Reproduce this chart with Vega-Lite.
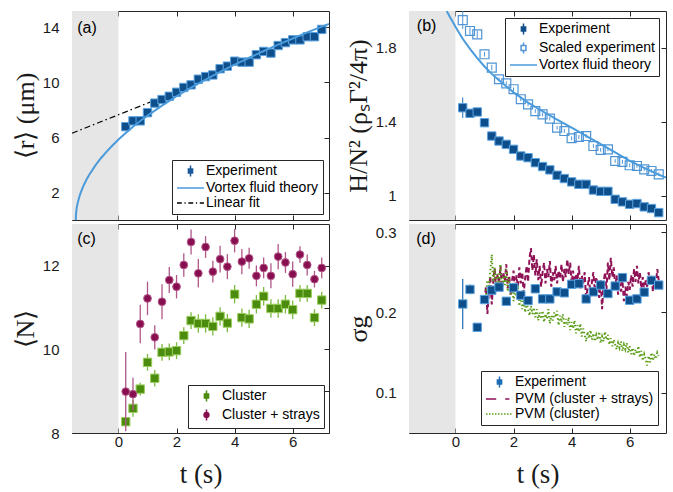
{
"$schema": "https://vega.github.io/schema/vega-lite/v6.json",
"padding": {"left": 11, "top": 10, "right": 2, "bottom": 2},
"background": "white",
"config": {
  "view": {"stroke": "#262626", "strokeWidth": 1},
  "axis": {"domain": false, "grid": false, "tickSize": -5, "tickColor": "#262626", "tickWidth": 1, "labelFont": "Liberation Sans", "labelFontSize": 15, "labelColor": "#1a1a1a", "labelPadding": 18, "titleFont": "Liberation Serif", "titleFontSize": 26, "titleFontWeight": "normal", "titleColor": "#1a1a1a", "titlePadding": 4},
  "legend": {"title": null, "labelFont": "Liberation Sans", "labelFontSize": 14, "labelColor": "#000000", "strokeColor": "#262626", "fillColor": "#ffffff", "padding": 4, "rowPadding": 1, "symbolSize": 144, "symbolStrokeWidth": 1.5, "labelOffset": 16, "symbolOpacity": 1, "cornerRadius": 0},
  "text": {"font": "Liberation Sans", "fontSize": 16}
},
"datasets": {
  "shade": [{"t0": -1.6, "t1": 0}],
  "a": [
    {"series":"Experiment","t":0.25,"v":6.79},{"series":"Experiment","t":0.5,"v":7.21},{"series":"Experiment","t":0.75,"v":7.21},{"series":"Experiment","t":1.0,"v":7.81},{"series":"Experiment","t":1.25,"v":8.5},{"series":"Experiment","t":1.5,"v":8.76},{"series":"Experiment","t":1.75,"v":9.0},{"series":"Experiment","t":2.0,"v":9.29},{"series":"Experiment","t":2.25,"v":9.64},{"series":"Experiment","t":2.5,"v":9.83},{"series":"Experiment","t":2.75,"v":10.24},{"series":"Experiment","t":3.0,"v":10.43},{"series":"Experiment","t":3.25,"v":10.55},{"series":"Experiment","t":3.5,"v":11.0},{"series":"Experiment","t":3.75,"v":11.19},{"series":"Experiment","t":4.0,"v":11.55},{"series":"Experiment","t":4.25,"v":11.48},{"series":"Experiment","t":4.5,"v":11.48},{"series":"Experiment","t":4.75,"v":12.02},{"series":"Experiment","t":5.0,"v":12.26},{"series":"Experiment","t":5.25,"v":12.14},{"series":"Experiment","t":5.5,"v":12.69},{"series":"Experiment","t":5.75,"v":12.9},{"series":"Experiment","t":6.0,"v":13.1},{"series":"Experiment","t":6.25,"v":13.1},{"series":"Experiment","t":6.5,"v":13.33},{"series":"Experiment","t":6.75,"v":13.33},{"series":"Experiment","t":7.0,"v":13.86},
    {"series":"Vortex fluid theory","t":-1.47,"v":0},{"series":"Vortex fluid theory","t":-1.465,"v":0.34},{"series":"Vortex fluid theory","t":-1.46,"v":0.48},{"series":"Vortex fluid theory","t":-1.45,"v":0.68},{"series":"Vortex fluid theory","t":-1.44,"v":0.84},{"series":"Vortex fluid theory","t":-1.42,"v":1.08},{"series":"Vortex fluid theory","t":-1.4,"v":1.28},{"series":"Vortex fluid theory","t":-1.35,"v":1.67},{"series":"Vortex fluid theory","t":-1.3,"v":1.99},{"series":"Vortex fluid theory","t":-1.2,"v":2.51},{"series":"Vortex fluid theory","t":-1.1,"v":2.94},{"series":"Vortex fluid theory","t":-1.0,"v":3.31},{"series":"Vortex fluid theory","t":-0.8,"v":3.95},{"series":"Vortex fluid theory","t":-0.6,"v":4.51},{"series":"Vortex fluid theory","t":-0.4,"v":4.99},{"series":"Vortex fluid theory","t":-0.2,"v":5.44},{"series":"Vortex fluid theory","t":0,"v":5.86},{"series":"Vortex fluid theory","t":0.25,"v":6.33},{"series":"Vortex fluid theory","t":0.5,"v":6.78},{"series":"Vortex fluid theory","t":0.75,"v":7.2},{"series":"Vortex fluid theory","t":1.0,"v":7.59},{"series":"Vortex fluid theory","t":1.5,"v":8.32},{"series":"Vortex fluid theory","t":2.0,"v":9.0},{"series":"Vortex fluid theory","t":2.5,"v":9.62},{"series":"Vortex fluid theory","t":3.0,"v":10.21},{"series":"Vortex fluid theory","t":3.5,"v":10.77},{"series":"Vortex fluid theory","t":4.0,"v":11.3},{"series":"Vortex fluid theory","t":4.5,"v":11.8},{"series":"Vortex fluid theory","t":5.0,"v":12.29},{"series":"Vortex fluid theory","t":5.5,"v":12.75},{"series":"Vortex fluid theory","t":6.0,"v":13.2},{"series":"Vortex fluid theory","t":6.5,"v":13.64},{"series":"Vortex fluid theory","t":7.0,"v":14.06},{"series":"Vortex fluid theory","t":7.25,"v":14.26},
    {"series":"Linear fit","t":-1.6,"v":6.31},{"series":"Linear fit","t":2.0,"v":9.34}
  ],
  "b": [
    {"series":"Experiment","t":0.25,"v":1.477,"err":0.055},{"series":"Experiment","t":0.5,"v":1.447,"err":0.012},{"series":"Experiment","t":0.75,"v":1.454,"err":0.01},{"series":"Experiment","t":1.0,"v":1.396,"err":0.008},{"series":"Experiment","t":1.25,"v":1.324,"err":0.008},{"series":"Experiment","t":1.5,"v":1.297,"err":0.008},{"series":"Experiment","t":1.75,"v":1.279,"err":0.008},{"series":"Experiment","t":2.0,"v":1.252,"err":0.008},{"series":"Experiment","t":2.25,"v":1.216,"err":0.008},{"series":"Experiment","t":2.5,"v":1.207,"err":0.008},{"series":"Experiment","t":2.75,"v":1.18,"err":0.008},{"series":"Experiment","t":3.0,"v":1.159,"err":0.008},{"series":"Experiment","t":3.25,"v":1.141,"err":0.008},{"series":"Experiment","t":3.5,"v":1.112,"err":0.008},{"series":"Experiment","t":3.75,"v":1.094,"err":0.008},{"series":"Experiment","t":4.0,"v":1.076,"err":0.008},{"series":"Experiment","t":4.25,"v":1.063,"err":0.008},{"series":"Experiment","t":4.5,"v":1.063,"err":0.008},{"series":"Experiment","t":4.75,"v":1.032,"err":0.008},{"series":"Experiment","t":5.0,"v":1.025,"err":0.008},{"series":"Experiment","t":5.25,"v":1.025,"err":0.008},{"series":"Experiment","t":5.5,"v":0.982,"err":0.008},{"series":"Experiment","t":5.75,"v":0.968,"err":0.008},{"series":"Experiment","t":6.0,"v":0.955,"err":0.008},{"series":"Experiment","t":6.25,"v":0.959,"err":0.008},{"series":"Experiment","t":6.5,"v":0.941,"err":0.008},{"series":"Experiment","t":6.75,"v":0.932,"err":0.008},{"series":"Experiment","t":7.0,"v":0.91,"err":0.008},
    {"series":"Scaled experiment","t":0.25,"v":1.951,"err":0.048},{"series":"Scaled experiment","t":0.5,"v":1.892,"err":0.02},{"series":"Scaled experiment","t":0.75,"v":1.874,"err":0.02},{"series":"Scaled experiment","t":1.0,"v":1.766,"err":0.012},{"series":"Scaled experiment","t":1.25,"v":1.694,"err":0.015},{"series":"Scaled experiment","t":1.5,"v":1.631,"err":0.01},{"series":"Scaled experiment","t":1.75,"v":1.609,"err":0.01},{"series":"Scaled experiment","t":2.0,"v":1.577,"err":0.01},{"series":"Scaled experiment","t":2.25,"v":1.523,"err":0.01},{"series":"Scaled experiment","t":2.5,"v":1.495,"err":0.01},{"series":"Scaled experiment","t":2.75,"v":1.459,"err":0.01},{"series":"Scaled experiment","t":3.0,"v":1.441,"err":0.01},{"series":"Scaled experiment","t":3.25,"v":1.418,"err":0.01},{"series":"Scaled experiment","t":3.5,"v":1.369,"err":0.01},{"series":"Scaled experiment","t":3.75,"v":1.351,"err":0.01},{"series":"Scaled experiment","t":4.0,"v":1.312,"err":0.01},{"series":"Scaled experiment","t":4.25,"v":1.319,"err":0.01},{"series":"Scaled experiment","t":4.5,"v":1.324,"err":0.01},{"series":"Scaled experiment","t":4.75,"v":1.27,"err":0.01},{"series":"Scaled experiment","t":5.0,"v":1.249,"err":0.01},{"series":"Scaled experiment","t":5.25,"v":1.252,"err":0.01},{"series":"Scaled experiment","t":5.5,"v":1.189,"err":0.01},{"series":"Scaled experiment","t":5.75,"v":1.184,"err":0.01},{"series":"Scaled experiment","t":6.0,"v":1.166,"err":0.01},{"series":"Scaled experiment","t":6.25,"v":1.162,"err":0.01},{"series":"Scaled experiment","t":6.5,"v":1.144,"err":0.01},{"series":"Scaled experiment","t":6.75,"v":1.135,"err":0.01},{"series":"Scaled experiment","t":7.0,"v":1.117,"err":0.01},
    {"series":"Vortex fluid theory","t":-0.3,"v":2.0},{"series":"Vortex fluid theory","t":-0.2,"v":1.97},{"series":"Vortex fluid theory","t":-0.1,"v":1.943},{"series":"Vortex fluid theory","t":0,"v":1.915},{"series":"Vortex fluid theory","t":0.25,"v":1.85},{"series":"Vortex fluid theory","t":0.5,"v":1.795},{"series":"Vortex fluid theory","t":0.75,"v":1.745},{"series":"Vortex fluid theory","t":1.0,"v":1.7},{"series":"Vortex fluid theory","t":1.25,"v":1.66},{"series":"Vortex fluid theory","t":1.5,"v":1.625},{"series":"Vortex fluid theory","t":2.0,"v":1.56},{"series":"Vortex fluid theory","t":2.5,"v":1.505},{"series":"Vortex fluid theory","t":3.0,"v":1.458},{"series":"Vortex fluid theory","t":3.5,"v":1.413},{"series":"Vortex fluid theory","t":4.0,"v":1.37},{"series":"Vortex fluid theory","t":4.5,"v":1.325},{"series":"Vortex fluid theory","t":5.0,"v":1.28},{"series":"Vortex fluid theory","t":5.5,"v":1.235},{"series":"Vortex fluid theory","t":6.0,"v":1.19},{"series":"Vortex fluid theory","t":6.5,"v":1.152},{"series":"Vortex fluid theory","t":7.0,"v":1.115},{"series":"Vortex fluid theory","t":7.25,"v":1.1}
  ],
  "c": [
    {"series":"Cluster","t":0.25,"v":8.27,"err":0.1},{"series":"Cluster","t":0.5,"v":8.59,"err":0.2},{"series":"Cluster","t":0.75,"v":9.05,"err":0.15},{"series":"Cluster","t":1.0,"v":9.69,"err":0.2},{"series":"Cluster","t":1.25,"v":9.31,"err":0.2},{"series":"Cluster","t":1.5,"v":9.93,"err":0.2},{"series":"Cluster","t":1.75,"v":9.94,"err":0.2},{"series":"Cluster","t":2.0,"v":9.97,"err":0.2},{"series":"Cluster","t":2.25,"v":10.33,"err":0.2},{"series":"Cluster","t":2.5,"v":10.69,"err":0.2},{"series":"Cluster","t":2.75,"v":10.62,"err":0.22},{"series":"Cluster","t":3.0,"v":10.62,"err":0.22},{"series":"Cluster","t":3.25,"v":10.55,"err":0.22},{"series":"Cluster","t":3.5,"v":10.79,"err":0.22},{"series":"Cluster","t":3.75,"v":10.63,"err":0.22},{"series":"Cluster","t":4.0,"v":11.32,"err":0.22},{"series":"Cluster","t":4.25,"v":10.76,"err":0.22},{"series":"Cluster","t":4.5,"v":10.73,"err":0.22},{"series":"Cluster","t":4.75,"v":11.08,"err":0.22},{"series":"Cluster","t":5.0,"v":11.27,"err":0.22},{"series":"Cluster","t":5.25,"v":10.98,"err":0.22},{"series":"Cluster","t":5.5,"v":10.98,"err":0.22},{"series":"Cluster","t":5.75,"v":11.08,"err":0.22},{"series":"Cluster","t":6.0,"v":10.95,"err":0.22},{"series":"Cluster","t":6.25,"v":11.34,"err":0.2},{"series":"Cluster","t":6.5,"v":11.34,"err":0.2},{"series":"Cluster","t":6.75,"v":10.76,"err":0.2},{"series":"Cluster","t":7.0,"v":11.18,"err":0.2},
    {"series":"Cluster + strays","t":0.25,"v":8.99,"err":0.95},{"series":"Cluster + strays","t":0.5,"v":8.93,"err":0.39},{"series":"Cluster + strays","t":0.75,"v":10.61,"err":0.46},{"series":"Cluster + strays","t":1.0,"v":11.22,"err":0.4},{"series":"Cluster + strays","t":1.25,"v":10.29,"err":0.29},{"series":"Cluster + strays","t":1.5,"v":11.14,"err":0.42},{"series":"Cluster + strays","t":1.75,"v":11.66,"err":0.31},{"series":"Cluster + strays","t":2.0,"v":11.5,"err":0.28},{"series":"Cluster + strays","t":2.25,"v":12.02,"err":0.28},{"series":"Cluster + strays","t":2.5,"v":12.57,"err":0.3},{"series":"Cluster + strays","t":2.75,"v":11.82,"err":0.34},{"series":"Cluster + strays","t":3.0,"v":12.45,"err":0.26},{"series":"Cluster + strays","t":3.25,"v":11.86,"err":0.26},{"series":"Cluster + strays","t":3.5,"v":12.16,"err":0.32},{"series":"Cluster + strays","t":3.75,"v":11.98,"err":0.3},{"series":"Cluster + strays","t":4.0,"v":12.6,"err":0.28},{"series":"Cluster + strays","t":4.25,"v":12.1,"err":0.3},{"series":"Cluster + strays","t":4.5,"v":12.18,"err":0.25},{"series":"Cluster + strays","t":4.75,"v":11.76,"err":0.25},{"series":"Cluster + strays","t":5.0,"v":11.95,"err":0.25},{"series":"Cluster + strays","t":5.25,"v":11.76,"err":0.3},{"series":"Cluster + strays","t":5.5,"v":12.22,"err":0.3},{"series":"Cluster + strays","t":5.75,"v":12.08,"err":0.25},{"series":"Cluster + strays","t":6.0,"v":11.8,"err":0.3},{"series":"Cluster + strays","t":6.25,"v":12.27,"err":0.2},{"series":"Cluster + strays","t":6.5,"v":12.02,"err":0.25},{"series":"Cluster + strays","t":6.75,"v":11.68,"err":0.2},{"series":"Cluster + strays","t":7.0,"v":11.95,"err":0.25}
  ],
  "d": [
    {"series":"Experiment","t":0.25,"v":0.2105,"err":0.031},{"series":"Experiment","t":0.5,"v":0.2286,"err":0.006},{"series":"Experiment","t":0.75,"v":0.1815,"err":0.004},{"series":"Experiment","t":1.0,"v":0.216,"err":0.004},{"series":"Experiment","t":1.25,"v":0.2277,"err":0.004},{"series":"Experiment","t":1.5,"v":0.2315,"err":0.004},{"series":"Experiment","t":1.75,"v":0.2139,"err":0.004},{"series":"Experiment","t":2.0,"v":0.2307,"err":0.004},{"series":"Experiment","t":2.25,"v":0.2214,"err":0.004},{"series":"Experiment","t":2.5,"v":0.2147,"err":0.004},{"series":"Experiment","t":2.75,"v":0.2294,"err":0.004},{"series":"Experiment","t":3.0,"v":0.2168,"err":0.004},{"series":"Experiment","t":3.25,"v":0.2168,"err":0.004},{"series":"Experiment","t":3.5,"v":0.2256,"err":0.004},{"series":"Experiment","t":3.75,"v":0.2244,"err":0.004},{"series":"Experiment","t":4.0,"v":0.2349,"err":0.004},{"series":"Experiment","t":4.25,"v":0.2357,"err":0.004},{"series":"Experiment","t":4.5,"v":0.2168,"err":0.004},{"series":"Experiment","t":4.75,"v":0.2256,"err":0.004},{"series":"Experiment","t":5.0,"v":0.234,"err":0.004},{"series":"Experiment","t":5.25,"v":0.2235,"err":0.004},{"series":"Experiment","t":5.5,"v":0.2328,"err":0.004},{"series":"Experiment","t":5.75,"v":0.2433,"err":0.004},{"series":"Experiment","t":6.0,"v":0.2151,"err":0.004},{"series":"Experiment","t":6.25,"v":0.2168,"err":0.004},{"series":"Experiment","t":6.5,"v":0.2252,"err":0.004},{"series":"Experiment","t":6.75,"v":0.2399,"err":0.004},{"series":"Experiment","t":7.0,"v":0.234,"err":0.004},
    {"series":"PVM (cluster + strays)","t":1.0,"v":0.215},{"series":"PVM (cluster + strays)","t":1.05,"v":0.232},{"series":"PVM (cluster + strays)","t":1.1,"v":0.198},{"series":"PVM (cluster + strays)","t":1.15,"v":0.226},{"series":"PVM (cluster + strays)","t":1.2,"v":0.245},{"series":"PVM (cluster + strays)","t":1.25,"v":0.21},{"series":"PVM (cluster + strays)","t":1.3,"v":0.238},{"series":"PVM (cluster + strays)","t":1.35,"v":0.255},{"series":"PVM (cluster + strays)","t":1.4,"v":0.228},{"series":"PVM (cluster + strays)","t":1.45,"v":0.248},{"series":"PVM (cluster + strays)","t":1.5,"v":0.236},{"series":"PVM (cluster + strays)","t":1.55,"v":0.258},{"series":"PVM (cluster + strays)","t":1.6,"v":0.226},{"series":"PVM (cluster + strays)","t":1.65,"v":0.25},{"series":"PVM (cluster + strays)","t":1.7,"v":0.238},{"series":"PVM (cluster + strays)","t":1.75,"v":0.26},{"series":"PVM (cluster + strays)","t":1.8,"v":0.23},{"series":"PVM (cluster + strays)","t":1.85,"v":0.246},{"series":"PVM (cluster + strays)","t":1.9,"v":0.222},{"series":"PVM (cluster + strays)","t":1.95,"v":0.24},{"series":"PVM (cluster + strays)","t":2.0,"v":0.252},{"series":"PVM (cluster + strays)","t":2.05,"v":0.228},{"series":"PVM (cluster + strays)","t":2.1,"v":0.246},{"series":"PVM (cluster + strays)","t":2.15,"v":0.232},{"series":"PVM (cluster + strays)","t":2.2,"v":0.256},{"series":"PVM (cluster + strays)","t":2.25,"v":0.236},{"series":"PVM (cluster + strays)","t":2.3,"v":0.25},{"series":"PVM (cluster + strays)","t":2.35,"v":0.224},{"series":"PVM (cluster + strays)","t":2.4,"v":0.242},{"series":"PVM (cluster + strays)","t":2.45,"v":0.258},{"series":"PVM (cluster + strays)","t":2.5,"v":0.238},{"series":"PVM (cluster + strays)","t":2.55,"v":0.268},{"series":"PVM (cluster + strays)","t":2.6,"v":0.28},{"series":"PVM (cluster + strays)","t":2.65,"v":0.252},{"series":"PVM (cluster + strays)","t":2.7,"v":0.272},{"series":"PVM (cluster + strays)","t":2.75,"v":0.246},{"series":"PVM (cluster + strays)","t":2.8,"v":0.266},{"series":"PVM (cluster + strays)","t":2.85,"v":0.24},{"series":"PVM (cluster + strays)","t":2.9,"v":0.258},{"series":"PVM (cluster + strays)","t":2.95,"v":0.232},{"series":"PVM (cluster + strays)","t":3.0,"v":0.25},{"series":"PVM (cluster + strays)","t":3.05,"v":0.262},{"series":"PVM (cluster + strays)","t":3.1,"v":0.236},{"series":"PVM (cluster + strays)","t":3.15,"v":0.254},{"series":"PVM (cluster + strays)","t":3.2,"v":0.244},{"series":"PVM (cluster + strays)","t":3.25,"v":0.264},{"series":"PVM (cluster + strays)","t":3.3,"v":0.232},{"series":"PVM (cluster + strays)","t":3.35,"v":0.25},{"series":"PVM (cluster + strays)","t":3.4,"v":0.24},{"series":"PVM (cluster + strays)","t":3.45,"v":0.258},{"series":"PVM (cluster + strays)","t":3.5,"v":0.236},{"series":"PVM (cluster + strays)","t":3.55,"v":0.252},{"series":"PVM (cluster + strays)","t":3.6,"v":0.242},{"series":"PVM (cluster + strays)","t":3.65,"v":0.26},{"series":"PVM (cluster + strays)","t":3.7,"v":0.238},{"series":"PVM (cluster + strays)","t":3.75,"v":0.254},{"series":"PVM (cluster + strays)","t":3.8,"v":0.244},{"series":"PVM (cluster + strays)","t":3.85,"v":0.266},{"series":"PVM (cluster + strays)","t":3.9,"v":0.248},{"series":"PVM (cluster + strays)","t":3.95,"v":0.262},{"series":"PVM (cluster + strays)","t":4.0,"v":0.236},{"series":"PVM (cluster + strays)","t":4.05,"v":0.252},{"series":"PVM (cluster + strays)","t":4.1,"v":0.232},{"series":"PVM (cluster + strays)","t":4.15,"v":0.248},{"series":"PVM (cluster + strays)","t":4.2,"v":0.24},{"series":"PVM (cluster + strays)","t":4.25,"v":0.258},{"series":"PVM (cluster + strays)","t":4.3,"v":0.23},{"series":"PVM (cluster + strays)","t":4.35,"v":0.246},{"series":"PVM (cluster + strays)","t":4.4,"v":0.236},{"series":"PVM (cluster + strays)","t":4.45,"v":0.25},{"series":"PVM (cluster + strays)","t":4.5,"v":0.214},{"series":"PVM (cluster + strays)","t":4.55,"v":0.232},{"series":"PVM (cluster + strays)","t":4.6,"v":0.244},{"series":"PVM (cluster + strays)","t":4.65,"v":0.22},{"series":"PVM (cluster + strays)","t":4.7,"v":0.238},{"series":"PVM (cluster + strays)","t":4.75,"v":0.25},{"series":"PVM (cluster + strays)","t":4.8,"v":0.226},{"series":"PVM (cluster + strays)","t":4.85,"v":0.244},{"series":"PVM (cluster + strays)","t":4.9,"v":0.232},{"series":"PVM (cluster + strays)","t":4.95,"v":0.218},{"series":"PVM (cluster + strays)","t":5.0,"v":0.24},{"series":"PVM (cluster + strays)","t":5.05,"v":0.204},{"series":"PVM (cluster + strays)","t":5.1,"v":0.236},{"series":"PVM (cluster + strays)","t":5.15,"v":0.25},{"series":"PVM (cluster + strays)","t":5.2,"v":0.228},{"series":"PVM (cluster + strays)","t":5.25,"v":0.262},{"series":"PVM (cluster + strays)","t":5.3,"v":0.24},{"series":"PVM (cluster + strays)","t":5.35,"v":0.268},{"series":"PVM (cluster + strays)","t":5.4,"v":0.244},{"series":"PVM (cluster + strays)","t":5.45,"v":0.256},{"series":"PVM (cluster + strays)","t":5.5,"v":0.232},{"series":"PVM (cluster + strays)","t":5.55,"v":0.246},{"series":"PVM (cluster + strays)","t":5.6,"v":0.222},{"series":"PVM (cluster + strays)","t":5.65,"v":0.238},{"series":"PVM (cluster + strays)","t":5.7,"v":0.226},{"series":"PVM (cluster + strays)","t":5.75,"v":0.24},{"series":"PVM (cluster + strays)","t":5.8,"v":0.214},{"series":"PVM (cluster + strays)","t":5.85,"v":0.232},{"series":"PVM (cluster + strays)","t":5.9,"v":0.22},{"series":"PVM (cluster + strays)","t":5.95,"v":0.238},{"series":"PVM (cluster + strays)","t":6.0,"v":0.228},{"series":"PVM (cluster + strays)","t":6.05,"v":0.246},{"series":"PVM (cluster + strays)","t":6.1,"v":0.232},{"series":"PVM (cluster + strays)","t":6.15,"v":0.254},{"series":"PVM (cluster + strays)","t":6.2,"v":0.238},{"series":"PVM (cluster + strays)","t":6.25,"v":0.258},{"series":"PVM (cluster + strays)","t":6.3,"v":0.236},{"series":"PVM (cluster + strays)","t":6.35,"v":0.25},{"series":"PVM (cluster + strays)","t":6.4,"v":0.23},{"series":"PVM (cluster + strays)","t":6.45,"v":0.244},{"series":"PVM (cluster + strays)","t":6.5,"v":0.226},{"series":"PVM (cluster + strays)","t":6.55,"v":0.24},{"series":"PVM (cluster + strays)","t":6.6,"v":0.232},{"series":"PVM (cluster + strays)","t":6.65,"v":0.25},{"series":"PVM (cluster + strays)","t":6.7,"v":0.236},{"series":"PVM (cluster + strays)","t":6.75,"v":0.246},{"series":"PVM (cluster + strays)","t":6.8,"v":0.226},{"series":"PVM (cluster + strays)","t":6.85,"v":0.242},{"series":"PVM (cluster + strays)","t":6.9,"v":0.234},{"series":"PVM (cluster + strays)","t":6.95,"v":0.254},{"series":"PVM (cluster + strays)","t":7.0,"v":0.24},
    {"series":"PVM (cluster)","t":1.05,"v":0.222},{"series":"PVM (cluster)","t":1.1,"v":0.24},{"series":"PVM (cluster)","t":1.15,"v":0.228},{"series":"PVM (cluster)","t":1.2,"v":0.252},{"series":"PVM (cluster)","t":1.25,"v":0.272},{"series":"PVM (cluster)","t":1.3,"v":0.238},{"series":"PVM (cluster)","t":1.35,"v":0.256},{"series":"PVM (cluster)","t":1.4,"v":0.23},{"series":"PVM (cluster)","t":1.45,"v":0.248},{"series":"PVM (cluster)","t":1.5,"v":0.236},{"series":"PVM (cluster)","t":1.55,"v":0.26},{"series":"PVM (cluster)","t":1.6,"v":0.228},{"series":"PVM (cluster)","t":1.65,"v":0.246},{"series":"PVM (cluster)","t":1.7,"v":0.234},{"series":"PVM (cluster)","t":1.75,"v":0.254},{"series":"PVM (cluster)","t":1.8,"v":0.226},{"series":"PVM (cluster)","t":1.85,"v":0.242},{"series":"PVM (cluster)","t":1.9,"v":0.222},{"series":"PVM (cluster)","t":1.95,"v":0.236},{"series":"PVM (cluster)","t":2.0,"v":0.214},{"series":"PVM (cluster)","t":2.05,"v":0.23},{"series":"PVM (cluster)","t":2.1,"v":0.22},{"series":"PVM (cluster)","t":2.15,"v":0.234},{"series":"PVM (cluster)","t":2.2,"v":0.208},{"series":"PVM (cluster)","t":2.25,"v":0.222},{"series":"PVM (cluster)","t":2.3,"v":0.204},{"series":"PVM (cluster)","t":2.35,"v":0.216},{"series":"PVM (cluster)","t":2.4,"v":0.2},{"series":"PVM (cluster)","t":2.45,"v":0.212},{"series":"PVM (cluster)","t":2.5,"v":0.204},{"series":"PVM (cluster)","t":2.55,"v":0.196},{"series":"PVM (cluster)","t":2.6,"v":0.208},{"series":"PVM (cluster)","t":2.65,"v":0.198},{"series":"PVM (cluster)","t":2.7,"v":0.206},{"series":"PVM (cluster)","t":2.75,"v":0.194},{"series":"PVM (cluster)","t":2.8,"v":0.204},{"series":"PVM (cluster)","t":2.85,"v":0.19},{"series":"PVM (cluster)","t":2.9,"v":0.2},{"series":"PVM (cluster)","t":2.95,"v":0.192},{"series":"PVM (cluster)","t":3.0,"v":0.202},{"series":"PVM (cluster)","t":3.05,"v":0.188},{"series":"PVM (cluster)","t":3.1,"v":0.198},{"series":"PVM (cluster)","t":3.15,"v":0.192},{"series":"PVM (cluster)","t":3.2,"v":0.204},{"series":"PVM (cluster)","t":3.25,"v":0.186},{"series":"PVM (cluster)","t":3.3,"v":0.196},{"series":"PVM (cluster)","t":3.35,"v":0.19},{"series":"PVM (cluster)","t":3.4,"v":0.2},{"series":"PVM (cluster)","t":3.45,"v":0.194},{"series":"PVM (cluster)","t":3.5,"v":0.202},{"series":"PVM (cluster)","t":3.55,"v":0.184},{"series":"PVM (cluster)","t":3.6,"v":0.196},{"series":"PVM (cluster)","t":3.65,"v":0.188},{"series":"PVM (cluster)","t":3.7,"v":0.198},{"series":"PVM (cluster)","t":3.75,"v":0.182},{"series":"PVM (cluster)","t":3.8,"v":0.192},{"series":"PVM (cluster)","t":3.85,"v":0.184},{"series":"PVM (cluster)","t":3.9,"v":0.194},{"series":"PVM (cluster)","t":3.95,"v":0.178},{"series":"PVM (cluster)","t":4.0,"v":0.188},{"series":"PVM (cluster)","t":4.05,"v":0.18},{"series":"PVM (cluster)","t":4.1,"v":0.19},{"series":"PVM (cluster)","t":4.15,"v":0.174},{"series":"PVM (cluster)","t":4.2,"v":0.184},{"series":"PVM (cluster)","t":4.25,"v":0.176},{"series":"PVM (cluster)","t":4.3,"v":0.186},{"series":"PVM (cluster)","t":4.35,"v":0.17},{"series":"PVM (cluster)","t":4.4,"v":0.18},{"series":"PVM (cluster)","t":4.45,"v":0.172},{"series":"PVM (cluster)","t":4.5,"v":0.164},{"series":"PVM (cluster)","t":4.55,"v":0.176},{"series":"PVM (cluster)","t":4.6,"v":0.168},{"series":"PVM (cluster)","t":4.65,"v":0.178},{"series":"PVM (cluster)","t":4.7,"v":0.166},{"series":"PVM (cluster)","t":4.75,"v":0.174},{"series":"PVM (cluster)","t":4.8,"v":0.164},{"series":"PVM (cluster)","t":4.85,"v":0.172},{"series":"PVM (cluster)","t":4.9,"v":0.166},{"series":"PVM (cluster)","t":4.95,"v":0.176},{"series":"PVM (cluster)","t":5.0,"v":0.162},{"series":"PVM (cluster)","t":5.05,"v":0.17},{"series":"PVM (cluster)","t":5.1,"v":0.164},{"series":"PVM (cluster)","t":5.15,"v":0.176},{"series":"PVM (cluster)","t":5.2,"v":0.166},{"series":"PVM (cluster)","t":5.25,"v":0.172},{"series":"PVM (cluster)","t":5.3,"v":0.16},{"series":"PVM (cluster)","t":5.35,"v":0.168},{"series":"PVM (cluster)","t":5.4,"v":0.158},{"series":"PVM (cluster)","t":5.45,"v":0.166},{"series":"PVM (cluster)","t":5.5,"v":0.16},{"series":"PVM (cluster)","t":5.55,"v":0.154},{"series":"PVM (cluster)","t":5.6,"v":0.162},{"series":"PVM (cluster)","t":5.65,"v":0.156},{"series":"PVM (cluster)","t":5.7,"v":0.164},{"series":"PVM (cluster)","t":5.75,"v":0.152},{"series":"PVM (cluster)","t":5.8,"v":0.16},{"series":"PVM (cluster)","t":5.85,"v":0.154},{"series":"PVM (cluster)","t":5.9,"v":0.162},{"series":"PVM (cluster)","t":5.95,"v":0.15},{"series":"PVM (cluster)","t":6.0,"v":0.158},{"series":"PVM (cluster)","t":6.05,"v":0.148},{"series":"PVM (cluster)","t":6.1,"v":0.156},{"series":"PVM (cluster)","t":6.15,"v":0.146},{"series":"PVM (cluster)","t":6.2,"v":0.154},{"series":"PVM (cluster)","t":6.25,"v":0.148},{"series":"PVM (cluster)","t":6.3,"v":0.158},{"series":"PVM (cluster)","t":6.35,"v":0.144},{"series":"PVM (cluster)","t":6.4,"v":0.152},{"series":"PVM (cluster)","t":6.45,"v":0.14},{"series":"PVM (cluster)","t":6.5,"v":0.148},{"series":"PVM (cluster)","t":6.55,"v":0.142},{"series":"PVM (cluster)","t":6.6,"v":0.134},{"series":"PVM (cluster)","t":6.65,"v":0.146},{"series":"PVM (cluster)","t":6.7,"v":0.138},{"series":"PVM (cluster)","t":6.75,"v":0.15},{"series":"PVM (cluster)","t":6.8,"v":0.14},{"series":"PVM (cluster)","t":6.85,"v":0.148},{"series":"PVM (cluster)","t":6.9,"v":0.142},{"series":"PVM (cluster)","t":6.95,"v":0.15},{"series":"PVM (cluster)","t":7.0,"v":0.146}
  ]
},
"columns": 2,
"spacing": {"row": 4, "column": 80},
"bounds": "flush",
"resolve": {"scale": {"color": "independent", "shape": "independent"}},
"concat": [
  {
    "width": 257, "height": 209,
    "data": {"name": "a"},
    "resolve": {"axis": {"x": "independent", "y": "independent"}},
    "layer": [
      {"data": {"name": "shade"}, "mark": {"type": "rect", "color": "#e6e6e6"},
       "encoding": {"x": {"field": "t0", "type": "quantitative", "scale": {"domain": [-1.6, 7.25], "nice": false, "zero": false}, "axis": null}, "x2": {"field": "t1"}}},
      {"transform": [{"filter": "datum.series === 'Linear fit'"}], "mark": {"type": "line", "color": "#000000", "strokeWidth": 1.3, "strokeDash": [6, 3, 1.5, 3]},
       "encoding": {"x": {"field": "t", "type": "quantitative", "scale": {"domain": [-1.6, 7.25], "nice": false, "zero": false}, "axis": null}, "y": {"field": "v", "type": "quantitative", "scale": {"domain": [0, 15.2], "nice": false, "zero": false}, "axis": null}}},
      {"transform": [{"filter": "datum.series === 'Experiment'"}], "mark": {"type": "point", "shape": "square", "filled": true, "fill": "#0e4f8b", "stroke": "#5ba3e0", "strokeWidth": 1, "size": 70, "opacity": 1},
       "encoding": {"x": {"field": "t", "type": "quantitative", "scale": {"domain": [-1.6, 7.25], "nice": false, "zero": false}, "axis": {"orient": "bottom", "values": [0, 2, 4, 6], "labels": false, "title": null}},
                    "y": {"field": "v", "type": "quantitative", "scale": {"domain": [0, 15.2], "nice": false, "zero": false}, "axis": {"orient": "left", "values": [2, 6, 10, 14], "format": "~g", "title": "⟨r⟩ (μm)"}}}},
      {"transform": [{"filter": "datum.series === 'Vortex fluid theory'"}], "mark": {"type": "line", "color": "#4a9bdc", "strokeWidth": 2, "clip": true},
       "encoding": {"x": {"field": "t", "type": "quantitative", "scale": {"domain": [-1.6, 7.25], "nice": false, "zero": false}, "axis": {"orient": "top", "values": [0, 2, 4, 6], "labels": false, "title": null}},
                    "y": {"field": "v", "type": "quantitative", "scale": {"domain": [0, 15.2], "nice": false, "zero": false}, "axis": {"orient": "right", "values": [2, 6, 10, 14], "labels": false, "title": null}}}},
      {"data": {"name": "shade"}, "mark": {"type": "text", "text": "(a)", "align": "left", "baseline": "middle"},
       "encoding": {"x": {"datum": -1.42, "type": "quantitative", "axis": null}, "y": {"datum": 14, "type": "quantitative", "axis": null}}},
      {"transform": [{"filter": "false"}], "mark": {"type": "point", "filled": false},
       "encoding": {"x": {"field": "t", "type": "quantitative", "axis": null}, "y": {"field": "v", "type": "quantitative", "axis": null},
         "color": {"field": "series", "type": "nominal", "scale": {"domain": ["Experiment", "Vortex fluid theory", "Linear fit"], "range": ["#1a5a9a", "#4a9bdc", "#000000"]}, "legend": {"title": null, "orient": "bottom-right", "offset": 6}},
         "shape": {"field": "series", "type": "nominal", "scale": {"domain": ["Experiment", "Vortex fluid theory", "Linear fit"], "range": ["M1.25,-0.9V0.9M0.9,-0.35H1.6V0.35H0.9ZM1.1,-0.15H1.4V0.15H1.1Z", "M-1,0H3.5", "M-1,0H-0.2M0.25,0H0.45M0.9,0H1.7M2.15,0H2.35M2.8,0H3.5"]}, "legend": {"title": null, "orient": "bottom-right", "offset": 6}}}}
    ]
  },
  {
    "width": 257, "height": 209,
    "data": {"name": "b"},
    "resolve": {"axis": {"x": "independent", "y": "independent"}},
    "layer": [
      {"data": {"name": "shade"}, "mark": {"type": "rect", "color": "#e6e6e6"},
       "encoding": {"x": {"field": "t0", "type": "quantitative", "scale": {"domain": [-1.6, 7.25], "nice": false, "zero": false}, "axis": null}, "x2": {"field": "t1"}}},
      {"transform": [{"filter": "datum.series === 'Scaled experiment'"}], "mark": {"type": "errorbar", "color": "#4f94d4", "thickness": 1},
       "encoding": {"x": {"field": "t", "type": "quantitative", "scale": {"domain": [-1.6, 7.25], "nice": false, "zero": false}, "axis": null}, "y": {"field": "v", "type": "quantitative", "scale": {"domain": [0.87, 2.0], "nice": false, "zero": false}, "axis": null}, "yError": {"field": "err"}}},
      {"transform": [{"filter": "datum.series === 'Scaled experiment'"}], "mark": {"type": "point", "shape": "square", "filled": false, "stroke": "#4f94d4", "strokeWidth": 1.2, "size": 80, "opacity": 1},
       "encoding": {"x": {"field": "t", "type": "quantitative", "scale": {"domain": [-1.6, 7.25], "nice": false, "zero": false}, "axis": null}, "y": {"field": "v", "type": "quantitative", "scale": {"domain": [0.87, 2.0], "nice": false, "zero": false}, "axis": null}}},
      {"transform": [{"filter": "datum.series === 'Experiment'"}], "mark": {"type": "errorbar", "color": "#1f6db5", "thickness": 1},
       "encoding": {"x": {"field": "t", "type": "quantitative", "scale": {"domain": [-1.6, 7.25], "nice": false, "zero": false}, "axis": null}, "y": {"field": "v", "type": "quantitative", "scale": {"domain": [0.87, 2.0], "nice": false, "zero": false}, "axis": null}, "yError": {"field": "err"}}},
      {"transform": [{"filter": "datum.series === 'Experiment'"}], "mark": {"type": "point", "shape": "square", "filled": true, "fill": "#0e4f8b", "stroke": "#5ba3e0", "strokeWidth": 1, "size": 70, "opacity": 1},
       "encoding": {"x": {"field": "t", "type": "quantitative", "scale": {"domain": [-1.6, 7.25], "nice": false, "zero": false}, "axis": {"orient": "bottom", "values": [0, 2, 4, 6], "labels": false, "title": null}},
                    "y": {"field": "v", "type": "quantitative", "scale": {"domain": [0.87, 2.0], "nice": false, "zero": false}, "axis": {"orient": "left", "values": [1, 1.4, 1.8], "format": "~g", "title": "H/N² (ρₛΓ²/4π)"}}}},
      {"transform": [{"filter": "datum.series === 'Vortex fluid theory'"}], "mark": {"type": "line", "color": "#4a9bdc", "strokeWidth": 2, "clip": true},
       "encoding": {"x": {"field": "t", "type": "quantitative", "scale": {"domain": [-1.6, 7.25], "nice": false, "zero": false}, "axis": {"orient": "top", "values": [0, 2, 4, 6], "labels": false, "title": null}},
                    "y": {"field": "v", "type": "quantitative", "scale": {"domain": [0.87, 2.0], "nice": false, "zero": false}, "axis": {"orient": "right", "values": [1, 1.4, 1.8], "labels": false, "title": null}}}},
      {"data": {"name": "shade"}, "mark": {"type": "text", "text": "(b)", "align": "left", "baseline": "middle"},
       "encoding": {"x": {"datum": -1.33, "type": "quantitative", "axis": null}, "y": {"datum": 1.92, "type": "quantitative", "axis": null}}},
      {"transform": [{"filter": "false"}], "mark": {"type": "point", "filled": false},
       "encoding": {"x": {"field": "t", "type": "quantitative", "axis": null}, "y": {"field": "v", "type": "quantitative", "axis": null},
         "color": {"field": "series", "type": "nominal", "scale": {"domain": ["Experiment", "Scaled experiment", "Vortex fluid theory"], "range": ["#0e4f8b", "#4f94d4", "#4a9bdc"]}, "legend": {"title": null, "orient": "top-right", "offset": 7}},
         "shape": {"field": "series", "type": "nominal", "scale": {"domain": ["Experiment", "Scaled experiment", "Vortex fluid theory"], "range": ["M1.25,-0.9V0.9M0.9,-0.35H1.6V0.35H0.9ZM1.1,-0.15H1.4V0.15H1.1Z", "M1.25,-0.9V-0.4M1.25,0.4V0.9M0.85,-0.4H1.65V0.4H0.85Z", "M-1,0H3.5"]}, "legend": {"title": null, "orient": "top-right", "offset": 7}}}}
    ]
  },
  {
    "width": 257, "height": 209,
    "data": {"name": "c"},
    "resolve": {"axis": {"x": "independent", "y": "independent"}},
    "layer": [
      {"data": {"name": "shade"}, "mark": {"type": "rect", "color": "#e6e6e6"},
       "encoding": {"x": {"field": "t0", "type": "quantitative", "scale": {"domain": [-1.6, 7.25], "nice": false, "zero": false}, "axis": null}, "x2": {"field": "t1"}}},
      {"transform": [{"filter": "datum.series === 'Cluster'"}], "mark": {"type": "errorbar", "color": "#7ab83f", "thickness": 1.3},
       "encoding": {"x": {"field": "t", "type": "quantitative", "scale": {"domain": [-1.6, 7.25], "nice": false, "zero": false}, "axis": null}, "y": {"field": "v", "type": "quantitative", "scale": {"domain": [8, 13], "nice": false, "zero": false}, "axis": null}, "yError": {"field": "err"}}},
      {"transform": [{"filter": "datum.series === 'Cluster'"}], "mark": {"type": "point", "shape": "square", "filled": true, "fill": "#4b8b0d", "stroke": "#9ccf5f", "strokeWidth": 1, "size": 70, "opacity": 1},
       "encoding": {"x": {"field": "t", "type": "quantitative", "scale": {"domain": [-1.6, 7.25], "nice": false, "zero": false}, "axis": null}, "y": {"field": "v", "type": "quantitative", "scale": {"domain": [8, 13], "nice": false, "zero": false}, "axis": null}}},
      {"transform": [{"filter": "datum.series === 'Cluster + strays'"}], "mark": {"type": "errorbar", "color": "#b0578a", "thickness": 1.3, "clip": true},
       "encoding": {"x": {"field": "t", "type": "quantitative", "scale": {"domain": [-1.6, 7.25], "nice": false, "zero": false}, "axis": null}, "y": {"field": "v", "type": "quantitative", "scale": {"domain": [8, 13], "nice": false, "zero": false}, "axis": null}, "yError": {"field": "err"}}},
      {"transform": [{"filter": "datum.series === 'Cluster + strays'"}], "mark": {"type": "point", "shape": "circle", "filled": true, "fill": "#870f4f", "stroke": "#b65a8e", "strokeWidth": 1, "size": 60, "opacity": 1},
       "encoding": {"x": {"field": "t", "type": "quantitative", "scale": {"domain": [-1.6, 7.25], "nice": false, "zero": false}, "axis": {"orient": "bottom", "values": [0, 2, 4, 6], "labelPadding": 6, "title": "t (s)", "titleFontSize": 27, "titlePadding": 12}},
                    "y": {"field": "v", "type": "quantitative", "scale": {"domain": [8, 13], "nice": false, "zero": false}, "axis": {"orient": "left", "values": [8, 9, 10, 11, 12], "labelExpr": "datum.value % 2 === 0 ? datum.label : ''", "title": "⟨N⟩"}}}},
      {"data": {"name": "shade"}, "mark": {"type": "text", "text": "(c)", "align": "left", "baseline": "middle"},
       "encoding": {"x": {"datum": -1.42, "type": "quantitative", "axis": {"orient": "top", "values": [0, 2, 4, 6], "labels": false, "title": null}}, "y": {"datum": 12.63, "type": "quantitative", "axis": {"orient": "right", "values": [8, 9, 10, 11, 12], "labels": false, "title": null}}}},
      {"transform": [{"filter": "false"}], "mark": {"type": "point", "filled": false},
       "encoding": {"x": {"field": "t", "type": "quantitative", "axis": null}, "y": {"field": "v", "type": "quantitative", "axis": null},
         "color": {"field": "series", "type": "nominal", "scale": {"domain": ["Cluster", "Cluster + strays"], "range": ["#4b8b0d", "#870f4f"]}, "legend": {"title": null, "orient": "bottom-right", "offset": 5}},
         "shape": {"field": "series", "type": "nominal", "scale": {"domain": ["Cluster", "Cluster + strays"], "range": ["M1.25,-0.9V0.9M0.9,-0.35H1.6V0.35H0.9ZM1.1,-0.15H1.4V0.15H1.1Z", "M1.25,-0.9V0.9M1.65,0A0.4,0.4 0 1,1 0.85,0A0.4,0.4 0 1,1 1.65,0ZM1.45,0A0.2,0.2 0 1,1 1.05,0A0.2,0.2 0 1,1 1.45,0Z"]}, "legend": {"title": null, "orient": "bottom-right", "offset": 5}}}}
    ]
  },
  {
    "width": 257, "height": 209,
    "data": {"name": "d"},
    "resolve": {"axis": {"x": "independent", "y": "independent"}},
    "layer": [
      {"data": {"name": "shade"}, "mark": {"type": "rect", "color": "#e6e6e6"},
       "encoding": {"x": {"field": "t0", "type": "quantitative", "scale": {"domain": [-1.6, 7.25], "nice": false, "zero": false}, "axis": null}, "x2": {"field": "t1"}}},
      {"transform": [{"filter": "datum.series === 'PVM (cluster + strays)'"}], "mark": {"type": "line", "color": "#8f1156", "strokeWidth": 2, "strokeDash": [5, 3]},
       "encoding": {"x": {"field": "t", "type": "quantitative", "scale": {"domain": [-1.6, 7.25], "nice": false, "zero": false}, "axis": null}, "y": {"field": "v", "type": "quantitative", "scale": {"domain": [0.05, 0.31], "nice": false, "zero": false}, "axis": null}}},
      {"transform": [{"filter": "datum.series === 'PVM (cluster)'"}], "mark": {"type": "line", "color": "#5c9e1a", "strokeWidth": 2, "strokeDash": [1.5, 2.5]},
       "encoding": {"x": {"field": "t", "type": "quantitative", "scale": {"domain": [-1.6, 7.25], "nice": false, "zero": false}, "axis": null}, "y": {"field": "v", "type": "quantitative", "scale": {"domain": [0.05, 0.31], "nice": false, "zero": false}, "axis": null}}},
      {"transform": [{"filter": "datum.series === 'Experiment'"}], "mark": {"type": "errorbar", "color": "#1f6db5", "thickness": 1.2},
       "encoding": {"x": {"field": "t", "type": "quantitative", "scale": {"domain": [-1.6, 7.25], "nice": false, "zero": false}, "axis": null}, "y": {"field": "v", "type": "quantitative", "scale": {"domain": [0.05, 0.31], "nice": false, "zero": false}, "axis": null}, "yError": {"field": "err"}}},
      {"transform": [{"filter": "datum.series === 'Experiment'"}], "mark": {"type": "point", "shape": "square", "filled": true, "fill": "#0e4f8b", "stroke": "#5ba3e0", "strokeWidth": 1, "size": 70, "opacity": 1},
       "encoding": {"x": {"field": "t", "type": "quantitative", "scale": {"domain": [-1.6, 7.25], "nice": false, "zero": false}, "axis": {"orient": "bottom", "values": [0, 2, 4, 6], "labelPadding": 6, "title": "t (s)", "titleFontSize": 27, "titlePadding": 12}},
                    "y": {"field": "v", "type": "quantitative", "scale": {"domain": [0.05, 0.31], "nice": false, "zero": false}, "axis": {"orient": "left", "values": [0.1, 0.2, 0.3], "format": "~g", "title": "σg"}}}},
      {"data": {"name": "shade"}, "mark": {"type": "text", "text": "(d)", "align": "left", "baseline": "middle"},
       "encoding": {"x": {"datum": -1.35, "type": "quantitative", "axis": {"orient": "top", "values": [0, 2, 4, 6], "labels": false, "title": null}}, "y": {"datum": 0.291, "type": "quantitative", "axis": {"orient": "right", "values": [0.1, 0.2, 0.3], "labels": false, "title": null}}}},
      {"transform": [{"filter": "false"}], "mark": {"type": "point", "filled": false},
       "encoding": {"x": {"field": "t", "type": "quantitative", "axis": null}, "y": {"field": "v", "type": "quantitative", "axis": null},
         "color": {"field": "series", "type": "nominal", "scale": {"domain": ["Experiment", "PVM (cluster + strays)", "PVM (cluster)"], "range": ["#1f6db5", "#8f1156", "#5c9e1a"]}, "legend": {"title": null, "orient": "bottom-right", "offset": 8}},
         "shape": {"field": "series", "type": "nominal", "scale": {"domain": ["Experiment", "PVM (cluster + strays)", "PVM (cluster)"], "range": ["M1.25,-0.9V0.9M0.9,-0.35H1.6V0.35H0.9ZM1.1,-0.15H1.4V0.15H1.1Z", "M-1,0H0.7M2.2,0H2.9", "M-1,0H-0.75M-0.5,0H-0.25M0,0H0.25M0.5,0H0.75M1,0H1.25M1.5,0H1.75M2,0H2.25M2.5,0H2.75M3,0H3.25"]}, "legend": {"title": null, "orient": "bottom-right", "offset": 8}}}}
    ]
  }
]
}
